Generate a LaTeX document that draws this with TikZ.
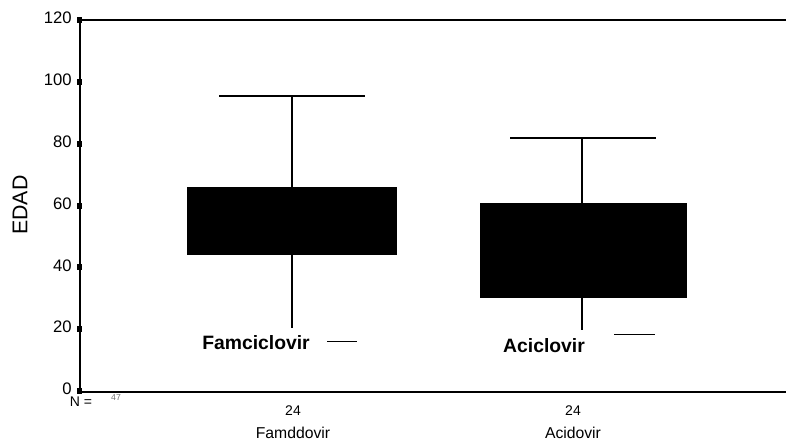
\documentclass[tikz,border=0pt]{standalone}
\usepackage{fontspec}
\setmainfont{Liberation Sans}
\tikzset{
  ticklabel/.style={anchor=east, inner sep=0.75pt, font=\fontsize{12.5}{14}\selectfont},
  countlabel/.style={inner sep=0.75pt, font=\fontsize{10.5}{12}\selectfont},
  grouplabel/.style={inner sep=0.75pt, font=\fontsize{11.8}{14}\selectfont},
  boxlabel/.style={inner sep=0.75pt, font=\bfseries\fontsize{14.5}{17}\selectfont},
  whisker/.style={line width=1.3}
}
\begin{document}
\begin{tikzpicture}[x=0.75pt,y=0.75pt,yscale=-1,xscale=1]
            \useasboundingbox (0,0) rectangle (786,446);
            % Frame
            \draw[line width=1.4] (80,20) -- (786,20); % Top line
            \draw[line width=1.6] (80,20) -- (80,392) -- (786,392); % Y-Axis and X-Axis

            % Ticks and tick labels
            \foreach \v in {0,20,...,120}{
              \fill (77,{391-3.09*\v-3}) rectangle (82,{391-3.09*\v+3}); % Tick
              \node[ticklabel] (tick\v) at (73,{389-3.09*\v}) {\v}; % Text Node tick
            }
            \node[rotate=90, inner sep=0.75pt, font=\fontsize{16}{19}\selectfont] (ylabel) at (20,205) {EDAD}; % Text Node EDAD

            % Famciclovir
            \fill (187,187) rectangle (397,255); % Box
            \draw[whisker] (292,96) -- (292,187) (219,96) -- (365,96); % Upper whisker
            \draw[whisker] (292,255) -- (292,328); % Lower whisker
            \draw (327,341) -- (357,341); % Dash
            \node[boxlabel] (famlabel) at (256,343) {Famciclovir}; % Text Node Famciclovir

            % Aciclovir
            \fill (480,203) rectangle (687,298); % Box
            \draw[whisker] (582,138) -- (582,203) (510,138) -- (656,138); % Upper whisker
            \draw[whisker] (582,298) -- (582,330); % Lower whisker
            \draw (614,334) -- (655,334); % Dash
            \node[boxlabel] (aclabel) at (544,346) {Aciclovir}; % Text Node Aciclovir

            % Counts and groups
            \node[countlabel] (nlabel) at (81,402) {N =}; % Text Node N
            \node[inner sep=0.75pt, font=\fontsize{6.5}{8}\selectfont, text=black!55] (ntotal) at (116,398) {47}; % Text Node total
            \node[countlabel] (famn) at (293,411) {24}; % Text Node count
            \node[grouplabel] (famgroup) at (293,433) {Famddovir}; % Text Node group
            \node[countlabel] (acn) at (573,411) {24}; % Text Node count
            \node[grouplabel] (acgroup) at (573,433) {Acidovir}; % Text Node group
\end{tikzpicture}
\end{document}
